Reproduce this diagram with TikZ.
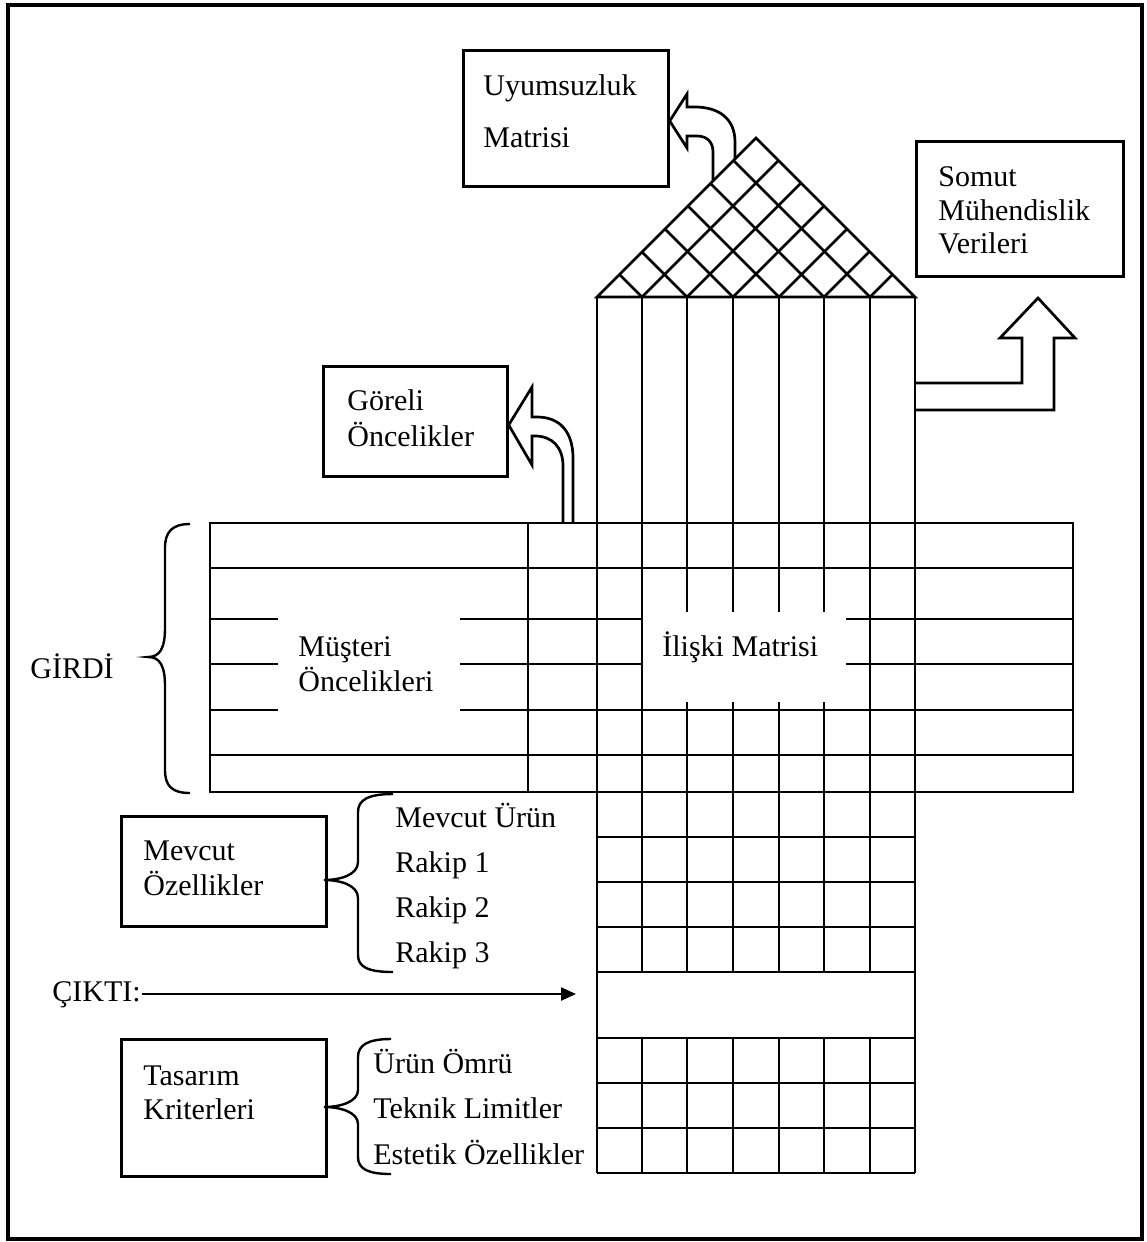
\documentclass[tikz,border=0pt]{standalone}
\usepackage{fontspec}
\setmainfont{Liberation Serif}
\usetikzlibrary{arrows.meta}
\begin{document}
\begin{tikzpicture}[x=0.5pt,y=-0.5pt,line join=miter,
  grid/.style={line width=1.4pt},
  frame/.style={line width=1.6pt},
  box/.style={draw,line width=1.35pt,inner sep=0pt,anchor=north west},
  lbl/.style={font=\fontsize{15}{17.5}\selectfont,inner sep=0pt,anchor=base west},
  hollow/.style={line width=1.35pt},
  curly/.style={line width=1.2pt},
  outarrow/.style={line width=1.2pt,-{Triangle[length=7.5pt,width=6.5pt]}}]
\useasboundingbox (0,0) rectangle (1146,1242);
% page frame
\draw[frame] (8,5) rectangle (1142,1239);

% ---- roof (correlation matrix) ----
\draw[grid] (597,297) -- (756,138) -- (915,297) -- cycle;
\foreach \x in {642,687,733,779,824,870}{
  \draw[grid] ({(597+\x)/2},{297-(\x-597)/2}) -- (\x,297) -- ({(915+\x)/2},{297-(915-\x)/2});
}

% ---- column verticals ----
\foreach \x in {597,915}{\draw[grid] (\x,297) -- (\x,1173);}
\foreach \x in {642,870}{
  \draw[grid] (\x,297) -- (\x,972);
  \draw[grid] (\x,1038) -- (\x,1173);}
\foreach \x in {687,733,779,824}{
  \draw[grid] (\x,297) -- (\x,612);
  \draw[grid] (\x,702) -- (\x,972);
  \draw[grid] (\x,1038) -- (\x,1173);}

% ---- horizontal band ----
\draw[grid] (210,523) rectangle (1073,792);
\draw[grid] (528,523) -- (528,792);
\foreach \y in {568,755}{\draw[grid] (210,\y) -- (1073,\y);}
\foreach \y in {619,664}{
  \draw[grid] (210,\y) -- (278,\y);
  \draw[grid] (460,\y) -- (642,\y);
  \draw[grid] (846,\y) -- (1073,\y);}
\draw[grid] (210,710) -- (278,710);
\draw[grid] (460,710) -- (1073,710);

% ---- rows below the band ----
\foreach \y in {837,882,927,972,1038,1083,1128,1173}{\draw[grid] (597,\y) -- (915,\y);}

% ---- boxes ----
\node[box,minimum width=102.5pt,minimum height=68pt] (uyum) at (462,49) {};
\node[box,minimum width=103.5pt,minimum height=67.5pt] (somut) at (915,140) {};
\node[box,minimum width=92pt,minimum height=55pt] (goreli) at (322,365) {};
\node[box,minimum width=102.5pt,minimum height=55pt] (mevcut) at (120,815) {};
\node[box,minimum width=102.5pt,minimum height=68.5pt] (tasarim) at (120,1038) {};

% ---- labels ----
\node[lbl] (uyum1) at (483,95) {Uyumsuzluk};
\node[lbl] (uyum2) at (483,147) {Matrisi};
\node[lbl] (somut1) at (938,186) {Somut};
\node[lbl] (somut2) at (938,220) {Mühendislik};
\node[lbl] (somut3) at (938,253) {Verileri};
\node[lbl] (goreli1) at (347,410) {Göreli};
\node[lbl] (goreli2) at (347,446) {Öncelikler};
\node[lbl] (must1) at (298,656) {Müşteri};
\node[lbl] (must2) at (298,691) {Öncelikleri};
\node[lbl] (iliski) at (662,656) {İlişki Matrisi};
\node[lbl] (girdi) at (30,678) {GİRDİ};
\node[lbl] (mevcut1) at (143,860) {Mevcut};
\node[lbl] (mevcut2) at (143,895) {Özellikler};
\node[lbl] (tasarim1) at (143,1085) {Tasarım};
\node[lbl] (tasarim2) at (143,1119) {Kriterleri};
\node[lbl] (cikti) at (52,1001) {ÇIKTI:};
\node[lbl] (mu) at (395,827) {Mevcut Ürün};
\node[lbl] (r1) at (395,872) {Rakip 1};
\node[lbl] (r2) at (395,917) {Rakip 2};
\node[lbl] (r3) at (395,962) {Rakip 3};
\node[lbl] (uo) at (373,1073) {Ürün Ömrü};
\node[lbl] (tl) at (373,1118) {Teknik Limitler};
\node[lbl] (eo) at (373,1164) {Estetik Özellikler};

% ---- output arrow ----
\coordinate (ciktitip) at (576,994);
\draw[outarrow] ([shift={(1,-7)}]cikti.base east) -- (ciktitip);

% ---- hollow arrows ----
% roof -> Uyumsuzluk Matrisi
\draw[hollow] (713,181) -- (713,152) .. controls (713,142) and (707,136) .. (697,136)
  -- (687,136) -- (687,148) -- (uyum.east |- 0,121) -- (687,94) -- (687,107) -- (695,107)
  .. controls (718,107) and (735,118) .. (735,142) -- (735,159);
% band -> Göreli Öncelikler
\draw[hollow] (563,523) -- (563,466) .. controls (563,447) and (552,436) .. (535,436)
  -- (532,436) -- (532,465) -- (goreli.east |- 0,425) -- (532,387) -- (532,417) -- (537,417)
  .. controls (560,417) and (573,432) .. (573,458) -- (573,523);
% column -> Somut Mühendislik Verileri
\draw[hollow] (915,410) -- (1054,410) -- (1054,338) -- (1075,338) -- (1038,298)
  -- (1000,338) -- (1022,338) -- (1022,383) -- (915,383);

% ---- braces ----
\draw[curly] (190,524) .. controls (172,524) and (165,532) .. (165,548) -- (165,628)
  .. controls (165,648) and (160,657) .. (148,657) .. controls (160,657) and (165,666) .. (165,686)
  -- (165,770) .. controls (165,786) and (172,793) .. (190,793);
\draw[curly] (393,794) .. controls (368,794) and (358,800) .. (358,812) -- (358,862)
  .. controls (358,875) and (340,880) .. (324,880) .. controls (340,880) and (358,885) .. (358,898)
  -- (358,955) .. controls (358,967) and (368,972) .. (393,972);
\draw[curly] (391,1039) .. controls (368,1039) and (358,1045) .. (358,1057) -- (358,1090)
  .. controls (358,1102) and (340,1107) .. (324,1107) .. controls (340,1107) and (358,1112) .. (358,1124)
  -- (358,1157) .. controls (358,1169) and (368,1174) .. (391,1174);
\end{tikzpicture}
\end{document}
